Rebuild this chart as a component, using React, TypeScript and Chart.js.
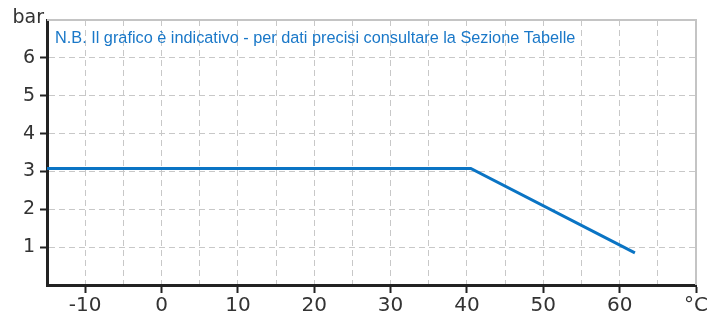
import React, { useEffect, useRef } from 'react';
import { Chart, registerables } from 'chart.js';

Chart.register(...registerables);

// Data
const temperatures = [-15, 40.5, 62];
const pressures = [3.08, 3.08, 0.85];
const xLabeledTicks = [-10, 0, 10, 20, 30, 40, 50, 60];
const xUnitLabel = '°C';
const yLabeledTicks = [1, 2, 3, 4, 5, 6];
const yUnitLabel = 'bar';
const noteText = 'N.B. Il grafico è indicativo - per dati precisi consultare la Sezione Tabelle';

const X_MIN = -15;
const X_MAX = 70;
const Y_MIN = 0;
const Y_MAX = 7;

const AXIS_COLOR = '#222222';
const GRID_COLOR = '#c8c8c8';
const FRAME_COLOR = '#c4c4c4';
const LINE_COLOR = '#0a74c4';
const NOTE_COLOR = '#1a78c8';
const TICK_FONT = 'DejaVu Sans';

const framePlugin = {
  id: 'framePlugin',
  beforeDatasetsDraw(chart: any) {
    const { ctx, chartArea } = chart;
    ctx.save();
    ctx.strokeStyle = FRAME_COLOR;
    ctx.lineWidth = 2;
    ctx.beginPath();
    ctx.moveTo(chartArea.left, chartArea.top);
    ctx.lineTo(chartArea.right, chartArea.top);
    ctx.lineTo(chartArea.right, chartArea.bottom);
    ctx.stroke();
    ctx.restore();
  },
  afterDraw(chart: any) {
    const { ctx, chartArea } = chart;
    ctx.save();
    ctx.fillStyle = NOTE_COLOR;
    ctx.font = '16.3px "Liberation Sans", Arial, sans-serif';
    ctx.textAlign = 'left';
    ctx.textBaseline = 'alphabetic';
    ctx.fillText(noteText, chartArea.left + 8, chartArea.top + 23);
    ctx.fillStyle = '#333333';
    ctx.font = `19px "${TICK_FONT}"`;
    ctx.textAlign = 'right';
    ctx.fillText(yUnitLabel, chartArea.left - 3, chartArea.top + 3);
    ctx.restore();
  },
};

export default function App() {
  const canvasRef = useRef<HTMLCanvasElement | null>(null);

  useEffect(() => {
    if (!canvasRef.current) return;
    const chart = new Chart(canvasRef.current, {
      type: 'line',
      data: {
        datasets: [
          {
            data: temperatures.map((t, i) => ({ x: t, y: pressures[i] })),
            borderColor: LINE_COLOR,
            borderWidth: 3,
            pointRadius: 0,
            tension: 0,
            fill: false,
          },
        ],
      },
      options: {
        animation: false,
        responsive: false,
        maintainAspectRatio: false,
        layout: { padding: { top: 20, right: 23, left: 0, bottom: 0 } },
        plugins: {
          legend: { display: false },
          tooltip: { enabled: false },
          title: { display: false },
        },
        scales: {
          x: {
            type: 'linear',
            min: X_MIN,
            max: X_MAX,
            afterFit(scale: any) {
              scale.height = 32;
            },
            ticks: {
              stepSize: 5,
              autoSkip: false,
              maxRotation: 0,
              padding: 1,
              color: '#333333',
              font: { family: TICK_FONT, size: 20 },
              callback: (v: any) => {
                const n = Number(v);
                if (xLabeledTicks.includes(n)) return String(n);
                if (n === X_MAX) return xUnitLabel;
                return '';
              },
            },
            grid: {
              color: (c: any) => {
                const n = c.tick ? c.tick.value : null;
                return n === X_MIN || n === X_MAX ? 'transparent' : GRID_COLOR;
              },
              lineWidth: 1,
              tickLength: 8,
              tickWidth: 2,
              tickColor: (c: any) => {
                const n = c.tick ? c.tick.value : null;
                return xLabeledTicks.includes(n) || n === X_MAX ? AXIS_COLOR : 'transparent';
              },
            },
            border: { display: true, color: AXIS_COLOR, width: 3, dash: [6, 4] },
          },
          y: {
            type: 'linear',
            min: Y_MIN,
            max: Y_MAX,
            afterFit(scale: any) {
              scale.width = 47;
            },
            ticks: {
              stepSize: 1,
              autoSkip: false,
              padding: 5,
              color: '#333333',
              font: { family: TICK_FONT, size: 19 },
              callback: (v: any) => {
                const n = Number(v);
                return yLabeledTicks.includes(n) ? String(n) : '';
              },
            },
            grid: {
              color: (c: any) => {
                const n = c.tick ? c.tick.value : null;
                return n === Y_MIN || n === Y_MAX ? 'transparent' : GRID_COLOR;
              },
              lineWidth: 1,
              tickLength: 7,
              tickWidth: 2,
              tickColor: (c: any) => {
                const n = c.tick ? c.tick.value : null;
                return yLabeledTicks.includes(n) ? AXIS_COLOR : 'transparent';
              },
            },
            border: { display: true, color: AXIS_COLOR, width: 3, dash: [6, 4] },
          },
        },
      },
      plugins: [framePlugin],
    });
    return () => chart.destroy();
  }, []);

  return (
    <div style={{ position: 'absolute', left: 0, top: 0, width: 719, height: 317, background: '#ffffff' }}>
      <canvas ref={canvasRef} width={719} height={317} style={{ display: 'block', width: 719, height: 317 }} />
    </div>
  );
}
